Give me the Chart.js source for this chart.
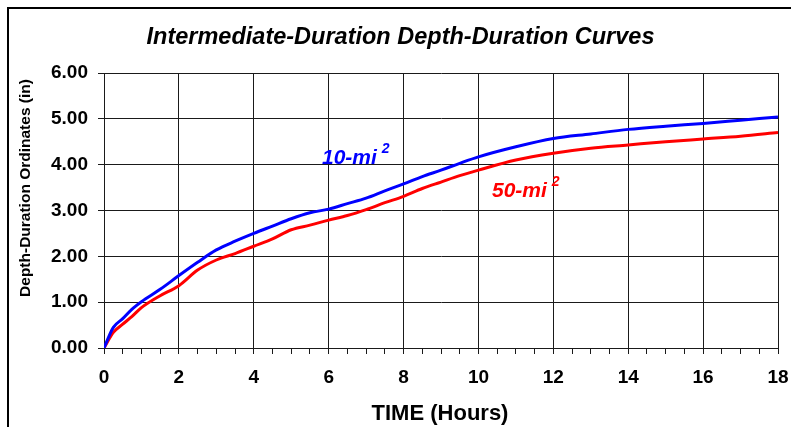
<!DOCTYPE html>
<html>
<head>
<meta charset="utf-8">
<script src="https://cdn.jsdelivr.net/npm/chart.js@4"></script>
<style>
  html, body { margin: 0; padding: 0; background: #fff; }
  #wrap { width: 791px; height: 427px; }
</style>
</head>
<body>
<div id="wrap"><canvas id="c" width="791" height="427"></canvas></div>
<script>
// Horas
const hours = [0, 0.25, 0.5, 0.75, 1, 1.5, 2, 2.5, 3, 3.5, 4, 4.5, 5, 5.5, 6, 6.5, 7, 7.5, 8, 8.5, 9, 9.5, 10, 11, 12, 13, 14, 15, 16, 17, 18];

// Curva 10 mi²
const depth10 = [0, 0.45, 0.64, 0.85, 1.01, 1.28, 1.58, 1.87, 2.14, 2.33, 2.5, 2.66, 2.82, 2.95, 3.03, 3.15, 3.27, 3.43, 3.58, 3.74, 3.88, 4.03, 4.17, 4.39, 4.57, 4.67, 4.77, 4.84, 4.90, 4.97, 5.04];

// Curva 50 mi²
const depth50 = [0, 0.34, 0.52, 0.69, 0.88, 1.14, 1.36, 1.7, 1.92, 2.06, 2.22, 2.38, 2.58, 2.68, 2.79, 2.89, 3.02, 3.17, 3.31, 3.48, 3.62, 3.76, 3.88, 4.10, 4.25, 4.36, 4.43, 4.50, 4.56, 4.62, 4.70];

const FONT = '"Liberation Sans", Arial, sans-serif';
const GRID = '#1a1a1a';

const toPoints = (ys) => hours.map((h, i) => ({ x: h, y: ys[i] }));

// Título, ejes, etiquetas y marco
const decorations = {
    id: 'decorations',
    afterDraw(chart) {
        const ctx = chart.ctx;
        ctx.save();

        // marco exterior
        ctx.strokeStyle = '#000';
        ctx.lineWidth = 2;
        ctx.beginPath();
        ctx.moveTo(8, 430);
        ctx.lineTo(8, 8);
        ctx.lineTo(795, 8);
        ctx.stroke();

        ctx.fillStyle = '#000';
        ctx.textBaseline = 'alphabetic';

        ctx.font = 'italic bold 23.5px ' + FONT;
        ctx.textAlign = 'center';
        ctx.fillText('Intermediate-Duration Depth-Duration Curves', 400.5, 43.5);

        ctx.font = 'bold 22px ' + FONT;
        ctx.fillText('TIME (Hours)', 440, 420);

        ctx.save();
        ctx.translate(30, 188);
        ctx.rotate(-Math.PI / 2);
        ctx.font = 'bold 15.5px ' + FONT;
        ctx.fillText('Depth-Duration Ordinates (in)', 0, 0);
        ctx.restore();

        // etiquetas de las curvas
        ctx.textAlign = 'left';
        const label = (text, x, y, color) => {
            ctx.fillStyle = color;
            ctx.font = 'italic bold 21px ' + FONT;
            ctx.fillText(text, x, y);
            const w = ctx.measureText(text).width;
            ctx.font = 'italic bold 14px ' + FONT;
            ctx.fillText('2', x + w + 5, y - 11);
        };
        label('10-mi', 322, 163.5, '#0000ff');
        label('50-mi', 492, 196.5, '#ff0000');

        ctx.restore();
    }
};

new Chart(document.getElementById('c'), {
    type: 'line',
    data: {
        datasets: [
            {
                label: '10-mi2',
                data: toPoints(depth10),
                borderColor: '#0000ff',
                borderWidth: 3,
                pointRadius: 0,
                cubicInterpolationMode: 'monotone',
                fill: false
            },
            {
                label: '50-mi2',
                data: toPoints(depth50),
                borderColor: '#ff0000',
                borderWidth: 3,
                pointRadius: 0,
                cubicInterpolationMode: 'monotone',
                fill: false
            }
        ]
    },
    options: {
        responsive: false,
        animation: false,
        layout: { padding: { top: 73, right: 13, bottom: 0, left: 0 } },
        plugins: {
            legend: { display: false },
            tooltip: { enabled: false },
            title: { display: false }
        },
        scales: {
            x: {
                type: 'linear',
                min: 0,
                max: 18,
                afterFit: (scale) => {
                    scale.height = 79;
                    scale.paddingLeft = 0;
                    scale.paddingRight = 0;
                },
                border: { color: GRID, width: 1 },
                grid: {
                    color: (c) => (c.tick && c.tick.value % 2 === 0) ? GRID : 'rgba(0,0,0,0)',
                    tickColor: GRID,
                    tickLength: 6,
                    lineWidth: 1
                },
                ticks: {
                    stepSize: 0.5,
                    autoSkip: false,
                    maxRotation: 0,
                    padding: 12,
                    color: '#000',
                    font: { family: FONT, size: 19, weight: 'bold' },
                    callback: (v) => (v % 2 === 0 ? String(v) : '')
                }
            },
            y: {
                min: 0,
                max: 6,
                afterFit: (scale) => {
                    scale.width = 104;
                    scale.paddingTop = 0;
                    scale.paddingBottom = 0;
                },
                border: { color: GRID, width: 1 },
                grid: {
                    color: GRID,
                    tickColor: GRID,
                    tickLength: 6,
                    lineWidth: 1
                },
                ticks: {
                    stepSize: 1,
                    padding: 10,
                    color: '#000',
                    font: { family: FONT, size: 19, weight: 'bold' },
                    callback: (v) => v.toFixed(2)
                }
            }
        }
    },
    plugins: [decorations]
});
</script>
</body>
</html>
